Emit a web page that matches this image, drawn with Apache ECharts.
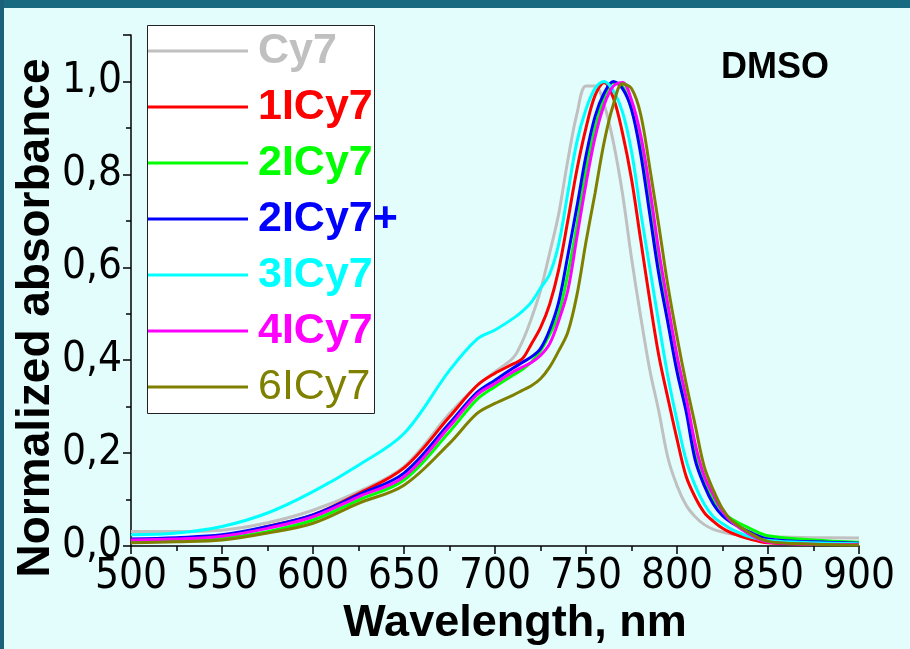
<!DOCTYPE html>
<html>
<head>
<meta charset="utf-8">
<script src="https://cdn.jsdelivr.net/npm/echarts@6/dist/echarts.min.js"></script>
<style>
  html, body { margin: 0; padding: 0; background: #e3fdfd; }
  #chart { width: 910px; height: 649px; }
</style>
</head>
<body>
<div id="chart"></div>
<script>
// wavelength grid, nm
const wavelengths = [500, 525, 550, 575, 600, 625, 650, 675, 690, 700, 710, 715, 720, 725, 730, 735, 740, 745, 750, 755,
  760, 765, 770, 775, 780, 785, 790, 795, 800, 805, 810, 815, 820, 825, 830, 840, 850, 875, 900]

const cy7 = [0.031, 0.031, 0.034, 0.05, 0.077, 0.117, 0.171, 0.285, 0.345, 0.375, 0.405, 0.44, 0.49, 0.55, 0.63, 0.715, 0.83, 0.93, 0.99, 0.99,
  0.95, 0.87, 0.76, 0.62, 0.495, 0.38, 0.29, 0.19, 0.13, 0.088, 0.063, 0.046, 0.036, 0.03, 0.026, 0.022, 0.02, 0.018, 0.017]
const icy7_1 = [0.012, 0.016, 0.022, 0.042, 0.067, 0.113, 0.168, 0.278, 0.345, 0.372, 0.392, 0.403, 0.435, 0.47, 0.52, 0.595, 0.7, 0.81, 0.9, 0.97,
  0.998, 0.965, 0.89, 0.79, 0.66, 0.53, 0.41, 0.318, 0.23, 0.15, 0.105, 0.072, 0.053, 0.038, 0.028, 0.015, 0.007, 0.004, 0.003]
const icy7_2 = [0.009, 0.011, 0.017, 0.031, 0.056, 0.099, 0.142, 0.246, 0.315, 0.343, 0.368, 0.38, 0.396, 0.42, 0.455, 0.5, 0.585, 0.69, 0.81, 0.9,
  0.965, 0.998, 0.99, 0.94, 0.865, 0.745, 0.61, 0.5, 0.39, 0.3, 0.2, 0.14, 0.1, 0.075, 0.058, 0.038, 0.022, 0.013, 0.008]
const icy7_2plus = [0.015, 0.018, 0.024, 0.042, 0.067, 0.11, 0.157, 0.264, 0.33, 0.357, 0.383, 0.395, 0.407, 0.425, 0.465, 0.525, 0.625, 0.73, 0.84, 0.925,
  0.975, 1.0, 0.985, 0.94, 0.845, 0.715, 0.585, 0.48, 0.375, 0.29, 0.185, 0.13, 0.09, 0.065, 0.05, 0.03, 0.015, 0.009, 0.006]
const icy7_3 = [0.024, 0.028, 0.042, 0.071, 0.117, 0.174, 0.242, 0.378, 0.445, 0.465, 0.49, 0.505, 0.525, 0.555, 0.585, 0.65, 0.76, 0.87, 0.94, 0.985,
  1.0, 0.98, 0.935, 0.85, 0.72, 0.6, 0.48, 0.365, 0.27, 0.185, 0.13, 0.09, 0.063, 0.048, 0.036, 0.02, 0.012, 0.007, 0.005]
const icy7_4 = [0.013, 0.015, 0.021, 0.038, 0.063, 0.106, 0.149, 0.257, 0.325, 0.35, 0.375, 0.385, 0.395, 0.41, 0.435, 0.485, 0.55, 0.665, 0.78, 0.88,
  0.95, 0.99, 0.998, 0.96, 0.885, 0.77, 0.635, 0.52, 0.41, 0.32, 0.22, 0.15, 0.11, 0.075, 0.052, 0.025, 0.008, 0.004, 0.003]
const icy7_6 = [0.007, 0.009, 0.013, 0.028, 0.049, 0.092, 0.131, 0.221, 0.285, 0.307, 0.325, 0.335, 0.345, 0.36, 0.385, 0.42, 0.46, 0.54, 0.655, 0.76,
  0.87, 0.95, 0.995, 0.985, 0.93, 0.815, 0.69, 0.56, 0.45, 0.35, 0.26, 0.17, 0.12, 0.08, 0.055, 0.028, 0.01, 0.004, 0.002]

const seriesNames = ['Cy7', '1ICy7', '2ICy7', '2ICy7+', '3ICy7', '4ICy7', '6ICy7']
const seriesValues = [cy7, icy7_1, icy7_2, icy7_2plus, icy7_3, icy7_4, icy7_6]
const seriesColors = ['#c0c0c0', '#ff0000', '#00ff00', '#0000ff', '#00ffff', '#ff00ff', '#808000']
const boldLabel = [true, true, true, true, true, true, false]

const chart = echarts.init(document.getElementById('chart'))

const labelFont = "'Liberation Sans Narrow', 'DejaVu Sans Condensed', 'Liberation Sans', sans-serif"
const titleFont = "'Liberation Sans', Arial, sans-serif"

const option = {
  backgroundColor: '#e3fdfd',
  animation: false,
  grid: { left: 131, right: 51, top: 35, bottom: 103, containLabel: false, outerBoundsMode: 'none' },
  graphic: [
    { type: 'rect', shape: { x: 0, y: 0, width: 910, height: 8 }, style: { fill: '#186a80' }, silent: true },
    { type: 'rect', shape: { x: 0, y: 0, width: 4, height: 649 }, style: { fill: '#1a6078' }, silent: true },
    { type: 'rect', z: 1, shape: { x: 147.5, y: 25.5, width: 227, height: 388 },
      style: { fill: '#ffffff', stroke: '#222', lineWidth: 1 }, silent: true },
    { type: 'text', z: 10, left: 721, top: 50,
      style: { text: 'DMSO', font: "bold 36px 'Liberation Sans', Arial, sans-serif", fill: '#000' } },
    // axis titles placed by hand, they sit off-centre in the original
    { type: 'text', z: 10, x: 36, y: 318, rotation: Math.PI / 2,
      style: { text: 'Normalized absorbance', font: "bold 46px 'Liberation Sans', Arial, sans-serif",
               fill: '#000', align: 'center', verticalAlign: 'middle' } },
    { type: 'text', z: 10, x: 515, y: 624,
      style: { text: 'Wavelength, nm', font: "bold 45px 'Liberation Sans', Arial, sans-serif",
               fill: '#000', align: 'center', verticalAlign: 'middle' } }
  ],
  legend: {
    orient: 'vertical', left: 148, top: 29, padding: 0, z: 10,
    icon: 'rect', itemWidth: 100, itemHeight: 3, itemGap: 12,
    data: seriesNames.map((n, i) => ({
      name: n,
      itemStyle: { color: seriesColors[i] },
      textStyle: { color: seriesColors[i], fontWeight: boldLabel[i] ? 'bold' : 'normal',
                   fontSize: 43, lineHeight: 44, fontFamily: titleFont, padding: [0, 0, 0, 5] }
    }))
  },
  xAxis: {
    type: 'value', min: 500, max: 900, interval: 50,
    axisLine: { lineStyle: { color: '#000', width: 1.5 } },
    axisTick: { inside: false, length: 8, lineStyle: { color: '#000', width: 1.5 } },
    minorTick: { show: true, splitNumber: 2, length: 5, lineStyle: { color: '#000', width: 1.5 } },
    splitLine: { show: false },
    axisLabel: { fontSize: 42, color: '#000', fontFamily: labelFont, margin: 10 }
  },
  yAxis: {
    type: 'value', min: 0, max: 1.1, interval: 0.2,
    axisLine: { show: true, lineStyle: { color: '#000', width: 1.5 } },
    axisTick: { show: true, inside: false, length: 8, lineStyle: { color: '#000', width: 1.5 } },
    minorTick: { show: true, splitNumber: 2, length: 5, lineStyle: { color: '#000', width: 1.5 } },
    splitLine: { show: false },
    axisLabel: {
      fontSize: 42, color: '#000', fontFamily: labelFont, margin: 9,
      formatter: v => (Math.abs(v * 10 % 2) < 1e-6 || Math.abs(v * 10 % 2 - 2) < 1e-6) ? v.toFixed(1).replace('.', ',') : ''
    }
  },
  series: seriesNames.map((n, i) => ({
    name: n, type: 'line', symbol: 'none', smooth: 0.35,
    lineStyle: { color: seriesColors[i], width: 3 },
    itemStyle: { color: seriesColors[i] },
    data: wavelengths.map((w, k) => [w, seriesValues[i][k]])
  }))
}

chart.setOption(option)
</script>
</body>
</html>
